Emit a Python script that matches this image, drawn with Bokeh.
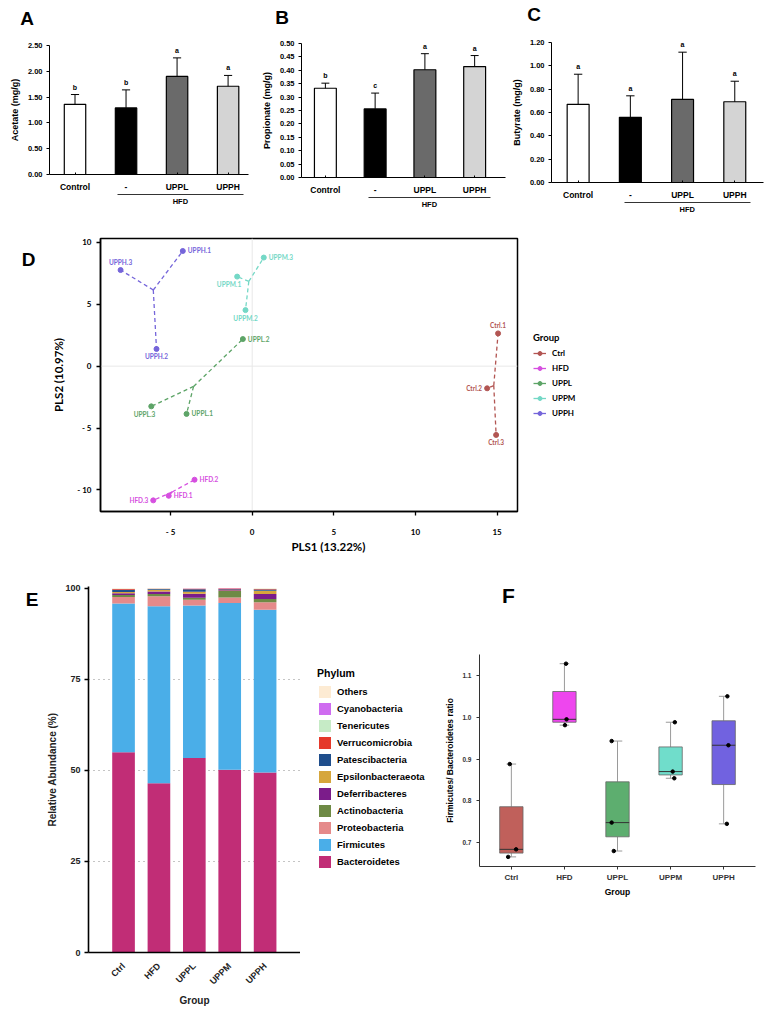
import numpy as np
from math import pi
from bokeh.plotting import figure
from bokeh.layouts import column, row
from bokeh.models import (Range1d, FixedTicker, PrintfTickFormatter, LabelSet, LinearAxis,
                          Legend, LegendItem, Span, ColumnDataSource)
from bokeh.core.properties import value
from bokeh.embed import file_html
from bokeh.resources import INLINE

SANS = "Liberation Sans"
PLS_FONT = "Lato"

# ---------------- Panels A-C: SCFA bars ----------------
scfa_groups = ["Control", "-", "UPPL", "UPPH"]
scfa_colors = ["#ffffff", "#000000", "#6a6a6a", "#d4d4d4"]
acetate_mean = [1.36, 1.29, 1.90, 1.71]
acetate_err = [0.19, 0.35, 0.36, 0.21]
acetate_sig = ["b", "b", "a", "a"]
acetate_ticks = [0.0, 0.5, 1.0, 1.5, 2.0, 2.5]
propionate_mean = [0.333, 0.256, 0.402, 0.414]
propionate_err = [0.019, 0.059, 0.060, 0.041]
propionate_sig = ["b", "c", "a", "a"]
propionate_ticks = [0.0, 0.05, 0.10, 0.15, 0.20, 0.25, 0.30, 0.35, 0.40, 0.45, 0.50]
butyrate_mean = [0.67, 0.559, 0.712, 0.692]
butyrate_err = [0.258, 0.184, 0.405, 0.176]
butyrate_sig = ["a", "a", "a", "a"]
butyrate_ticks = [0.0, 0.2, 0.4, 0.6, 0.8, 1.0, 1.2]

# ---------------- Panel D: PLS-DA ----------------
pls_groups = ["Ctrl", "HFD", "UPPL", "UPPM", "UPPH"]
pls_colors = ["#b25552", "#d64fe0", "#5da467", "#74d8c6", "#7565da"]
ctrl_pls1 = [15.06, 14.39, 14.94]
ctrl_pls2 = [2.65, -1.79, -5.56]
hfd_pls1 = [-5.11, -3.53, -6.06]
hfd_pls2 = [-10.48, -9.18, -10.85]
uppl_pls1 = [-4.02, -0.57, -6.18]
uppl_pls2 = [-3.86, 2.19, -3.25]
uppm_pls1 = [-0.92, -0.41, 0.71]
uppm_pls2 = [7.24, 4.53, 8.78]
upph_pls1 = [-4.25, -5.86, -8.06]
upph_pls2 = [9.31, 1.39, 7.77]
pls_label_side = {
    "Ctrl": ["above", "left", "below"],
    "HFD": ["right", "right", "left"],
    "UPPL": ["right", "right", "belowleft"],
    "UPPM": ["belowleft", "below", "right"],
    "UPPH": ["right", "below", "above"],
}
pls_ticks = [-10, -5, 0, 5, 10, 15]
pls_tick_labels = {-10: "- 10", -5: "- 5", 0: "0", 5: "5", 10: "10", 15: "15"}

# ---------------- Panel E: phylum composition ----------------
comp_groups = ["Ctrl", "HFD", "UPPL", "UPPM", "UPPH"]
phyla = ["Bacteroidetes", "Firmicutes", "Proteobacteria", "Actinobacteria", "Deferribacteres",
         "Epsilonbacteraeota", "Patescibacteria", "Verrucomicrobia", "Tenericutes",
         "Cyanobacteria", "Others"]
phyla_colors = ["#c12d76", "#4aaee8", "#e58a8a", "#6e8a45", "#7b1c8a", "#d6a63c",
                "#1f4e8c", "#e5392b", "#c6ebc6", "#cf6cf0", "#fdebd3"]
Bacteroidetes = [55.0, 46.5, 53.4, 50.2, 49.4]
Firmicutes = [40.8, 48.6, 41.9, 45.8, 44.7]
Proteobacteria = [1.8, 2.7, 1.55, 1.45, 2.1]
Actinobacteria = [0.6, 0.65, 0.55, 1.8, 0.9]
Deferribacteres = [0.45, 0.7, 1.1, 0.2, 1.35]
Epsilonbacteraeota = [0.35, 0.45, 0.55, 0.1, 0.9]
Patescibacteria = [0.6, 0.2, 0.7, 0.2, 0.35]
Verrucomicrobia = [0.2, 0.1, 0.1, 0.2, 0.1]
Tenericutes = [0.05, 0.05, 0.05, 0.02, 0.05]
Cyanobacteria = [0.05, 0.02, 0.05, 0.02, 0.05]
Others = [0.1, 0.03, 0.05, 0.01, 0.1]
comp_ticks = [0, 25, 50, 75, 100]

# ---------------- Panel F: F/B ratio ----------------
fb_groups = ["Ctrl", "HFD", "UPPL", "UPPM", "UPPH"]
fb_colors = ["#c0605b", "#ee46ee", "#5dae6f", "#70ddcb", "#7162e0"]
fb_ctrl = [0.888, 0.684, 0.666]
fb_hfd = [1.128, 0.995, 0.981]
fb_uppl = [0.943, 0.748, 0.680]
fb_uppm = [0.988, 0.870, 0.854]
fb_upph = [1.050, 0.933, 0.745]
fb_jitter = [[-0.03, 0.09, -0.06], [0.03, 0.04, 0.01], [-0.11, -0.11, -0.07],
             [0.08, 0.04, 0.07], [0.07, 0.09, 0.06]]
fb_ticks = [0.7, 0.8, 0.9, 1.0, 1.1]

OFF = [-1.0e6]  # legend proxies live far outside the visible frame


def blank_fig(width, height):
    """A figure without axes whose frame covers the whole canvas (pixel coordinates, y down)."""
    f = figure(width=width, height=height, x_range=Range1d(0, width), y_range=Range1d(height, 0),
               output_backend="svg", toolbar_location=None,
               x_axis_location=None, y_axis_location=None,
               min_border_left=0, min_border_right=0, min_border_top=0, min_border_bottom=0)
    f.outline_line_color = None
    f.grid.visible = False
    return f


def letters(f, xs, ys, txts, size="19px"):
    f.text(x=xs, y=ys, text=txts, text_align="center", text_baseline="alphabetic",
           text_font=value(SANS), text_font_size=size, text_font_style="bold", text_color="black")


def text_axis(p, side, tick, txt, standoff, size, font=SANS, bounds=None, line=None):
    """An extra axis that carries a single text label (panel letter / group bar / title)."""
    tick = float(tick)
    ax = LinearAxis(ticker=FixedTicker(ticks=[tick]), major_label_overrides={tick: txt},
                    major_tick_line_color=None, minor_tick_line_color=None,
                    major_tick_in=0, major_tick_out=0,
                    major_label_standoff=standoff, major_label_text_font=font,
                    major_label_text_font_size=size, major_label_text_font_style="bold",
                    major_label_text_color="black")
    if line is None:
        ax.axis_line_color = None
    else:
        ax.axis_line_color = "black"
        ax.axis_line_width = line
    if bounds is not None:
        ax.bounds = bounds
    p.add_layout(ax, side)
    return ax


def scfa_panel(ylabel, means, errs, sigs, yticks, width, height, xr, borders, bar_w, hfd_x):
    bl, br, bt, bb = borders
    p = figure(width=width, height=height, x_range=Range1d(*xr),
               y_range=Range1d(yticks[0], yticks[-1]),
               output_backend="svg", toolbar_location=None,
               min_border_left=bl, min_border_right=br, min_border_top=bt, min_border_bottom=bb)
    p.outline_line_color = None
    p.grid.visible = False
    xs = list(range(len(means)))
    tops = [m + e for m, e in zip(means, errs)]
    p.vbar(x=xs, top=means, bottom=0, width=bar_w, fill_color=scfa_colors,
           line_color="black", line_width=1.2)
    p.segment(x0=xs, y0=means, x1=xs, y1=tops, line_color="black", line_width=1)
    p.segment(x0=[x - 0.08 for x in xs], y0=tops, x1=[x + 0.08 for x in xs], y1=tops,
              line_color="black", line_width=1)
    src = ColumnDataSource(dict(x=xs, y=tops, t=sigs))
    p.add_layout(LabelSet(x="x", y="y", text="t", source=src, y_offset=4,
                          text_align="center", text_baseline="bottom",
                          text_font=value(SANS), text_font_size="7px",
                          text_font_style="bold", text_color="black"))
    xa, ya = p.xaxis[0], p.yaxis[0]
    xa.ticker = FixedTicker(ticks=xs)
    xa.major_label_overrides = {i: g for i, g in enumerate(scfa_groups)}
    xa.major_tick_in = 2
    xa.major_tick_out = 0
    xa.major_label_standoff = 7
    xa.major_label_text_font_size = "8.5px"
    ya.ticker = FixedTicker(ticks=yticks)
    ya.formatter = PrintfTickFormatter(format="%.2f")
    ya.major_tick_out = 3
    ya.major_tick_in = 0
    ya.major_label_standoff = 4
    ya.major_label_text_font_size = "7.5px"
    ya.axis_label = ylabel
    ya.axis_label_standoff = 5
    ya.axis_label_text_font_size = "9px"
    for ax in (xa, ya):
        ax.minor_tick_line_color = None
        ax.axis_line_color = "black"
        ax.major_tick_line_color = "black"
        ax.major_label_text_font = SANS
        ax.major_label_text_font_style = "bold"
        ax.major_label_text_color = "black"
        ax.axis_label_text_font = SANS
        ax.axis_label_text_font_style = "bold"
        ax.axis_label_text_color = "black"
    # group bar "HFD" under the last three bars
    text_axis(p, "below", (hfd_x[0] + hfd_x[1]) / 2, "HFD", 2, "7.5px",
              bounds=hfd_x, line=0.8)
    return p


ROW1_H = 186
pA = scfa_panel("Acetate (mg/g)", acetate_mean, acetate_err, acetate_sig, acetate_ticks,
                258, ROW1_H, (-0.5, 3.4), (49, 10, 15, 42), 0.42, (0.83, 3.30))
pB = scfa_panel("Propionate (mg/g)", propionate_mean, propionate_err, propionate_sig,
                propionate_ticks, 250, ROW1_H, (-0.48, 3.62), (42, 3, 13, 39), 0.44, (0.86, 3.32))
pC = scfa_panel("Butyrate (mg/g)", butyrate_mean, butyrate_err, butyrate_sig,
                butyrate_ticks, 266, ROW1_H, (-0.51, 3.55), (43, 11, 12, 33), 0.42, (0.88, 3.30))
strip1 = blank_fig(774, 30)
letters(strip1, [26.5, 281.5, 533.5], [18, 17, 14], ["A", "B", "C"])

# ---------------- Panel D ----------------
ROW2_H = 339
pD = figure(width=525, height=ROW2_H, x_range=Range1d(-9.29, 16.25),
            y_range=Range1d(-11.75, 10.32),
            output_backend="svg", toolbar_location=None,
            min_border_left=100, min_border_right=8, min_border_top=22, min_border_bottom=40)
pD.grid.visible = False
pD.outline_line_color = "black"
pD.outline_line_width = 1.5
pD.add_layout(Span(location=0, dimension="height", line_color="#e8e8e8", line_width=1, level="underlay"))
pD.add_layout(Span(location=0, dimension="width", line_color="#e8e8e8", line_width=1, level="underlay"))
legD_fig = blank_fig(249, ROW2_H)

pls_data = {
    "Ctrl": (ctrl_pls1, ctrl_pls2),
    "HFD": (hfd_pls1, hfd_pls2),
    "UPPL": (uppl_pls1, uppl_pls2),
    "UPPM": (uppm_pls1, uppm_pls2),
    "UPPH": (upph_pls1, upph_pls2),
}
side_style = {
    "right": ("left", 5, 0),
    "left": ("right", -5, 0),
    "above": ("center", 0, -8),
    "below": ("center", 0, 8),
    "belowleft": ("right", 4, 8),
}
legend_items = []
for g, c in zip(pls_groups, pls_colors):
    xs, ys = pls_data[g]
    cx, cy = float(np.mean(xs)), float(np.mean(ys))
    pD.segment(x0=[cx] * len(xs), y0=[cy] * len(ys), x1=xs, y1=ys, line_color=c,
               line_width=1.3, line_dash="4 3")
    pD.scatter(xs, ys, size=5, color=c)
    names = [f"{g}.{i + 1}" for i in range(len(xs))]
    for side, (align, dx, dy) in side_style.items():
        idx = [i for i, s in enumerate(pls_label_side[g]) if s == side]
        if not idx:
            continue
        pD.text(x=[xs[i] for i in idx], y=[ys[i] for i in idx], text=[names[i] for i in idx],
                x_offset=dx, y_offset=dy, text_align=align, text_baseline="middle",
                text_font=value(PLS_FONT), text_font_size="6.5px", text_font_style="bold",
                text_color=c)
    rl = legD_fig.line(x=OFF * 2, y=OFF * 2, line_color=c, line_width=1.3)
    rs = legD_fig.scatter(x=OFF, y=OFF, size=4, color=c)
    legend_items.append(LegendItem(label=g, renderers=[rl, rs]))

legD = Legend(items=legend_items, location=(8, 136), title="Group",
              title_text_font=PLS_FONT, title_text_font_size="9.5px", title_text_font_style="bold",
              title_text_color="black", title_standoff=3,
              label_text_font=PLS_FONT, label_text_font_size="8px", label_text_font_style="bold",
              label_text_color="black", glyph_width=13, glyph_height=10, label_height=13,
              label_standoff=6, spacing=2, padding=0, margin=0,
              border_line_color=None, background_fill_alpha=0)
legD_fig.add_layout(legD)

for ax in (pD.xaxis[0], pD.yaxis[0]):
    ax.ticker = FixedTicker(ticks=pls_ticks)
    ax.major_label_overrides = pls_tick_labels
    ax.minor_tick_line_color = None
    ax.major_tick_in = 0
    ax.major_tick_out = 4
    ax.major_tick_line_width = 1.3
    ax.axis_line_width = 1.5
    ax.axis_line_color = "black"
    ax.major_label_text_font = PLS_FONT
    ax.major_label_text_font_size = "8px"
    ax.major_label_text_font_style = "bold"
    ax.major_label_text_color = "black"
    ax.axis_label_text_font = PLS_FONT
    ax.axis_label_text_font_size = "11.5px"
    ax.axis_label_text_font_style = "bold"
    ax.axis_label_text_color = "black"
    ax.major_label_standoff = 5
pD.xaxis[0].major_label_standoff = 11
pD.yaxis[0].axis_label = "PLS2 (10.97%)"
pD.yaxis[0].axis_label_standoff = 9
# x-axis title, centred where the original puts it (slightly right of the frame centre)
text_axis(pD, "below", 4.67, "PLS1 (13.22%)", 0, "11.5px", font=PLS_FONT)
text_axis(pD, "left", 8.61, "D", 14, "19px")

# ---------------- Panel E ----------------
ROW3_H = 456
pE = figure(width=300, height=ROW3_H, x_range=Range1d(-0.99, 5.0), y_range=Range1d(0, 100.5),
            output_backend="svg", toolbar_location=None,
            min_border_left=88, min_border_right=0, min_border_top=31, min_border_bottom=59)
pE.outline_line_color = None
pE.xgrid.visible = False
pE.ygrid.ticker = FixedTicker(ticks=[25, 50, 75])
pE.ygrid.grid_line_color = "#8a8a8a"
pE.ygrid.grid_line_dash = "1 4"
pE.ygrid.grid_line_width = 1.2
comp_src = ColumnDataSource(dict(x=list(range(len(comp_groups))),
                                 Bacteroidetes=Bacteroidetes, Firmicutes=Firmicutes,
                                 Proteobacteria=Proteobacteria, Actinobacteria=Actinobacteria,
                                 Deferribacteres=Deferribacteres,
                                 Epsilonbacteraeota=Epsilonbacteraeota,
                                 Patescibacteria=Patescibacteria, Verrucomicrobia=Verrucomicrobia,
                                 Tenericutes=Tenericutes, Cyanobacteria=Cyanobacteria,
                                 Others=Others))
pE.vbar_stack(phyla, x="x", width=0.64, fill_color=phyla_colors, line_color=None,
              source=comp_src)
legE_fig = blank_fig(140, ROW3_H)
itemsE = []
for n, c in zip(phyla, phyla_colors):
    r = legE_fig.vbar(x=OFF, top=OFF, width=0.5, fill_color=c, line_color=None)
    itemsE.append(LegendItem(label=n, renderers=[r]))
legE = Legend(items=itemsE[::-1], location=(17, 142), title="Phylum",
              title_text_font=SANS, title_text_font_size="10.5px", title_text_font_style="bold",
              title_text_color="black", title_standoff=5,
              label_text_font=SANS, label_text_font_size="9.5px", label_text_font_style="bold",
              label_text_color="black", glyph_width=15, glyph_height=15, label_height=15,
              label_standoff=5, spacing=2, padding=0, margin=0,
              border_line_color=None, background_fill_alpha=0)
legE_fig.add_layout(legE)
ex, ey = pE.xaxis[0], pE.yaxis[0]
ex.ticker = FixedTicker(ticks=list(range(len(comp_groups))))
ex.major_label_overrides = {i: g for i, g in enumerate(comp_groups)}
ex.major_label_orientation = pi / 4
ex.major_tick_line_color = None
ex.major_label_standoff = 6
ex.axis_label = "Group"
ex.axis_label_standoff = 2
ey.ticker = FixedTicker(ticks=comp_ticks)
ey.major_tick_out = 4
ey.major_tick_in = 0
ey.major_label_standoff = 4
ey.axis_label = "Relative Abundance (%)"
ey.axis_label_standoff = 4
for ax in (ex, ey):
    ax.minor_tick_line_color = None
    ax.axis_line_color = "black"
    ax.axis_line_width = 1.6
    ax.major_tick_line_width = 1.3
    ax.major_label_text_font = SANS
    ax.major_label_text_font_size = "9px"
    ax.major_label_text_font_style = "bold"
    ax.major_label_text_color = "#222222"
    ax.axis_label_text_font = SANS
    ax.axis_label_text_font_size = "10px"
    ax.axis_label_text_font_style = "bold"
    ax.axis_label_text_color = "#222222"
text_axis(pE, "left", 96.8, "E", 6, "19px")

# ---------------- Panel F ----------------
STRIPF_H = 55
stripF = blank_fig(334, STRIPF_H)
letters(stripF, [35], [40], ["F"], size="21px")
pF = figure(width=334, height=ROW3_H - STRIPF_H, x_range=Range1d(-0.6, 4.6),
            y_range=Range1d(0.643, 1.15),
            output_backend="svg", toolbar_location=None,
            min_border_left=39, min_border_right=19, min_border_top=44, min_border_bottom=145)
pF.outline_line_color = None
pF.grid.visible = False
fb_all = [fb_ctrl, fb_hfd, fb_uppl, fb_uppm, fb_upph]
fx = list(range(len(fb_groups)))
q1 = [float(np.percentile(v, 25)) for v in fb_all]
q2 = [float(np.percentile(v, 50)) for v in fb_all]
q3 = [float(np.percentile(v, 75)) for v in fb_all]
vmin = [min(v) for v in fb_all]
vmax = [max(v) for v in fb_all]
bw = 0.44
cap = 0.09
pF.segment(x0=fx, y0=q3, x1=fx, y1=vmax, line_color="#9a9a9a", line_width=1)
pF.segment(x0=fx, y0=q1, x1=fx, y1=vmin, line_color="#9a9a9a", line_width=1)
pF.segment(x0=[x - cap for x in fx], y0=vmax, x1=[x + cap for x in fx], y1=vmax,
           line_color="#9a9a9a", line_width=1)
pF.segment(x0=[x - cap for x in fx], y0=vmin, x1=[x + cap for x in fx], y1=vmin,
           line_color="#9a9a9a", line_width=1)
pF.vbar(x=fx, bottom=q1, top=q3, width=bw, fill_color=fb_colors, line_color="#666666",
        line_width=0.8)
pF.segment(x0=[x - bw / 2 for x in fx], y0=q2, x1=[x + bw / 2 for x in fx], y1=q2,
           line_color="#333333", line_width=1)
px = [x + j for x, jj in zip(fx, fb_jitter) for j in jj]
py = [v for vv in fb_all for v in vv]
pF.scatter(px, py, size=3.5, color="black")
fxa, fya = pF.xaxis[0], pF.yaxis[0]
fxa.ticker = FixedTicker(ticks=fx)
fxa.major_label_overrides = {i: g for i, g in enumerate(fb_groups)}
fxa.axis_label = "Group"
fxa.axis_label_standoff = 2
fxa.major_label_standoff = 3
fxa.major_label_text_font_size = "8px"
fya.ticker = FixedTicker(ticks=fb_ticks)
fya.formatter = PrintfTickFormatter(format="%.1f")
fya.major_label_text_font_size = "6.5px"
fya.major_label_standoff = 5
fya.axis_label = "Firmicutes/ Bacteroidetes ratio"
fya.axis_label_standoff = 4
for ax in (fxa, fya):
    ax.minor_tick_line_color = None
    ax.major_tick_in = 0
    ax.major_tick_out = 3
    ax.axis_line_color = "#333333"
    ax.major_tick_line_color = "#333333"
    ax.major_label_text_font = SANS
    ax.major_label_text_font_style = "bold"
    ax.major_label_text_color = "#333333"
    ax.axis_label_text_font = SANS
    ax.axis_label_text_font_size = "8.5px"
    ax.axis_label_text_font_style = "bold"
    ax.axis_label_text_color = "black"

layout = column(
    strip1,
    row(column(pA), column(pB), column(pC)),
    row(column(pD), column(legD_fig)),
    row(column(pE), column(legE_fig), column(stripF, pF)),
)
open("out.html", "w").write(file_html(layout, INLINE))
